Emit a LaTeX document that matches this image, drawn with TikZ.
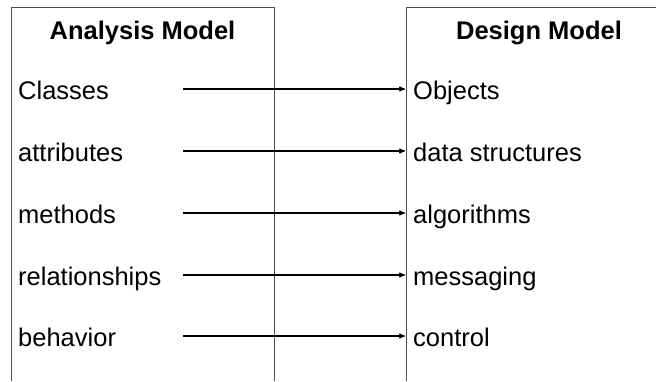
\documentclass[tikz,border=0pt]{standalone}
\usepackage{fontspec}
\setmainfont{Liberation Sans}
\usepackage{tikz}
\usepackage{xcolor}
\usetikzlibrary{arrows}

\begin{document}
\begin{tikzpicture}[x=1pt,y=-1pt,
    every node/.style={font=\fontsize{25.5}{30}\selectfont, inner ysep=0pt, inner xsep=7pt, text height=20pt, text depth=0pt},
    frame/.style={draw=black!70, line width=1pt},
    map/.style={-stealth', line width=1.1pt, shorten >=1pt}]

    \useasboundingbox (0,0) rectangle (656,381);

    %===========================
    % Models
    %===========================

    \draw[frame] (11,381) -- (11,7) -- (274,7) -- (274,381);
    \draw[frame] (406,381) -- (406,7) -- (656,7);
    \node (AM) at (142.5,29) {\bfseries Analysis Model};
    \node (DM) at (539,29) {\bfseries Design Model};

    %===========================
    % Elements
    %===========================

    % Left Side
    \node (L1) [anchor=west] at (11,89) {Classes};
    \node (L2) [anchor=west] at (11,151) {attributes};
    \node (L3) [anchor=west] at (11,213) {methods};
    \node (L4) [anchor=west] at (11,275) {relationships};
    \node (L5) [anchor=west] at (11,336) {behavior};

    % Right Side
    \node (R1) [anchor=west] at (406,89) {Objects};
    \node (R2) [anchor=west] at (406,151) {data structures};
    \node (R3) [anchor=west] at (406,213) {algorithms};
    \node (R4) [anchor=west] at (406,275) {messaging};
    \node (R5) [anchor=west] at (406,336) {control};

    %===========================
    % Mappings
    %===========================

    \coordinate (S1) at (183,89);
    \coordinate (S2) at (183,151);
    \coordinate (S3) at (183,213);
    \coordinate (S4) at (183,275);
    \coordinate (S5) at (183,336);
    \draw[map] (S1) to (R1.west);
    \draw[map] (S2) to (R2.west);
    \draw[map] (S3) to (R3.west);
    \draw[map] (S4) to (R4.west);
    \draw[map] (S5) to (R5.west);

\end{tikzpicture}
\end{document}
